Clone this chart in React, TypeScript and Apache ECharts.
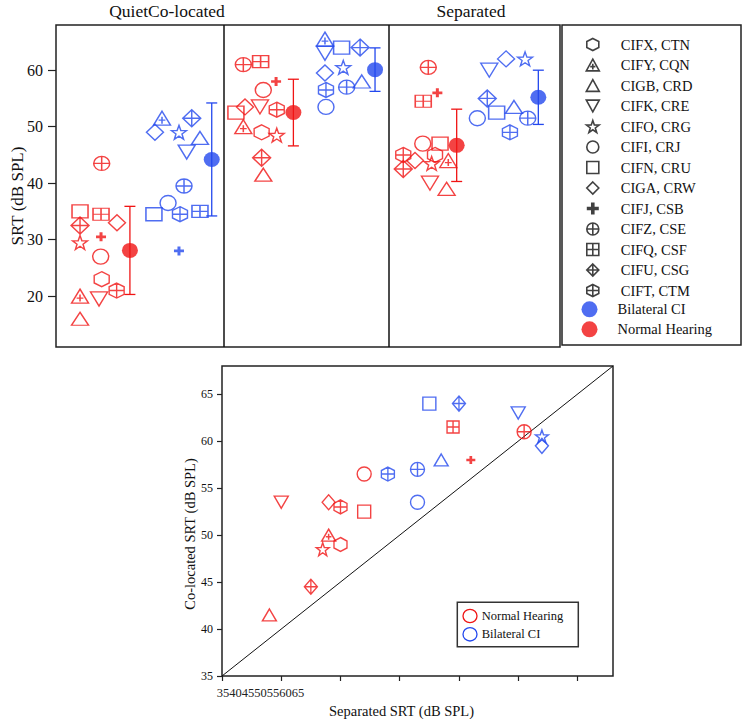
import React, { useEffect, useRef } from 'react';
import * as echarts from 'echarts';

// ---------- data ----------
const subjects = [
  'CIFX, CTN', 'CIFY, CQN', 'CIGB, CRD', 'CIFK, CRE', 'CIFO, CRG', 'CIFI, CRJ', 'CIFN, CRU',
  'CIGA, CRW', 'CIFJ, CSB', 'CIFZ, CSE', 'CIFQ, CSF', 'CIFU, CSG', 'CIFT, CTM',
];
const shapeKeys = [
  'hex', 'triPlus', 'tri', 'triDown', 'star', 'circle', 'square',
  'diamond', 'plus', 'circleCross', 'squareCross', 'diamondCross', 'hexCross',
];

// Normal hearing (red): SRT in dB SPL per subject
const nhQuiet = [23, 20, 16, 19.5, 29.5, 27, 35, 33, 30.5, 43.5, 34.5, 32.5, 21];
const nhCo = [49, 50, 41.5, 53.5, 48.5, 56.5, 52.5, 53.5, 58, 61, 61.5, 44.5, 53];
const nhSep = [45, 44, 39, 40, 43.5, 47, 47, 44, 56, 60.5, 54.5, 42.5, 45];
// Bilateral CI (blue)
const ciQuiet = [null, 51.5, 48, 45.5, 49, 36.5, 34.5, 49, 28, 39.5, 35, 51.5, 34.5];
const ciCo = [null, 65.5, 58, 63, 60.5, 53.5, 64, 59.5, null, 57, null, 64, 56.5];
const ciSep = [null, null, 53.5, 60, 62, 51.5, 52.5, 62, null, 51.5, null, 55, 49];

// horizontal (jitter) positions in the top panel, panel units (0-1 Quiet, 1-2 Co-located, 2-3 Separated)
const nhQuietX = [0.272, 0.143, 0.143, 0.256, 0.143, 0.266, 0.143, 0.363, 0.268, 0.272, 0.268, 0.143, 0.361];
const nhCoX = [1.224, 1.115, 1.234, 1.214, 1.314, 1.234, 1.071, 1.125, 1.31, 1.115, 1.218, 1.224, 1.314];
const nhSepX = [2.256, 2.335, 2.325, 2.226, 2.236, 2.183, 2.286, 2.137, 2.27, 2.216, 2.186, 2.067, 2.067];
const ciQuietX = [null, 0.631, 0.857, 0.778, 0.732, 0.667, 0.583, 0.589, 0.732, 0.762, 0.857, 0.808, 0.738];
const ciCoX = [null, 1.601, 1.82, 1.601, 1.71, 1.607, 1.7, 1.601, null, 1.73, null, 1.81, 1.607];
const ciSepX = [null, null, 2.726, 2.579, 2.792, 2.508, 2.623, 2.679, null, 2.808, null, 2.567, 2.702];

// group means and error bars (Quiet, Co-located, Separated)
const meanNH = [28.1, 52.5, 46.7];
const sdNH = [7.8, 5.9, 6.4];
const meanCI = [44.2, 60.1, 55.2];
const sdCI = [10.0, 3.85, 4.8];
const meanXNH = [0.44, 1.413, 2.385];
const meanXCI = [0.927, 1.899, 2.871];

const dividers = [1, 1.976];
const topYTicks = [20, 30, 40, 50, 60];
const bottomTicks = [35, 40, 45, 50, 55, 60, 65];
const diagonal = [[35, 35], [68, 68]];
const panelTitles = ['QuietCo-located', 'Separated'];
const brokenXLabels = '35404550556065';

// ---------- styling ----------
const RED = '#f01414';
const BLUE = '#2348ee';
const FONT = 'Liberation Serif';
const CROSS = ' M10,0 L10,20 M0,10 L20,10';
const CIRC = 'M0,10 A10,10 0 1 1 20,10 A10,10 0 1 1 0,10 Z';
const HEX = 'M10,0 L20,5 L20,15 L10,20 L0,15 L0,5 Z';
const SQ = 'M0,0 L20,0 L20,20 L0,20 Z';
const DIA = 'M10,0 L20,10 L10,20 L0,10 Z';
const paths: Record<string, string> = {
  hex: HEX,
  triPlus: 'M10,0 L20,18 L0,18 Z M10,7 L10,16 M6,11.5 L14,11.5',
  tri: 'M10,0 L20,18 L0,18 Z',
  triDown: 'M0,0 L20,0 L10,18 Z',
  star: 'M10,0 L12.35,6.76 L19.51,6.91 L13.8,11.24 L15.88,18.09 L10,14 L4.12,18.09 L6.2,11.24 L0.49,6.91 L7.65,6.76 Z',
  circle: CIRC,
  square: SQ,
  diamond: DIA,
  plus: 'M7,0 L13,0 L13,7 L20,7 L20,13 L13,13 L13,20 L7,20 L7,13 L0,13 L0,7 L7,7 Z',
  circleCross: CIRC + CROSS,
  squareCross: SQ + CROSS,
  diamondCross: DIA + CROSS,
  hexCross: HEX + CROSS,
};
const topSizes: Record<string, number[]> = {
  hex: [15, 15], triPlus: [17, 14], tri: [17, 13], triDown: [17, 14], star: [15, 14],
  circle: [16, 15], square: [16, 13], diamond: [17, 16], plus: [10, 9], circleCross: [16, 14],
  squareCross: [16, 12], diamondCross: [18, 17], hexCross: [15, 15],
};
const botSizes: Record<string, number[]> = {
  hex: [13, 14], triPlus: [14, 12], tri: [14, 12], triDown: [14, 12], star: [13, 13],
  circle: [14, 14], square: [13, 13], diamond: [13, 15], plus: [9, 8], circleCross: [14, 14],
  squareCross: [12, 12], diamondCross: [13, 15], hexCross: [13, 14],
};
const ELLIPSE = 'path://' + CIRC;

function markerItems(
  vals: (number | null)[], xs: (number | null)[] | null, xvals: (number | null)[] | null,
  sizes: Record<string, number[]>, color: string,
) {
  const out: any[] = [];
  vals.forEach((v, i) => {
    const x = xs ? xs[i] : xvals ? xvals[i] : null;
    if (v == null || x == null) return;
    const k = shapeKeys[i];
    out.push({
      name: subjects[i],
      value: [x, v],
      symbol: 'path://' + paths[k],
      symbolSize: sizes[k],
      itemStyle: k === 'plus'
        ? { color, borderWidth: 0 }
        : { color: 'rgba(0,0,0,0)', borderColor: color, borderWidth: 1.4 },
    });
  });
  return out;
}

function errorSeries(name: string, means: number[], sds: number[], xs: number[], color: string) {
  return {
    type: 'custom', name, xAxisIndex: 0, yAxisIndex: 0, z: 2,
    data: means.map((m, i) => [xs[i], m, sds[i]]),
    encode: { x: 0, y: 1 },
    renderItem: (_p: any, api: any) => {
      const x = api.value(0), m = api.value(1), s = api.value(2);
      const t = api.coord([x, m + s]);
      const b = api.coord([x, m - s]);
      const st = { stroke: color, lineWidth: 1.3 };
      const h = 5.5;
      return {
        type: 'group', children: [
          { type: 'line', shape: { x1: t[0], y1: t[1], x2: b[0], y2: b[1] }, style: st },
          { type: 'line', shape: { x1: t[0] - h, y1: t[1], x2: t[0] + h, y2: t[1] }, style: st },
          { type: 'line', shape: { x1: b[0] - h, y1: b[1], x2: b[0] + h, y2: b[1] }, style: st },
        ],
      };
    },
  };
}

export default function App() {
  const ref = useRef<HTMLDivElement>(null);
  useEffect(() => {
    document.body.style.margin = '0';
    if (!ref.current) return;
    const chart = echarts.init(ref.current, undefined, { renderer: 'svg' });

    const topIndividual = [
      ...markerItems(nhQuiet, nhQuietX, null, topSizes, RED),
      ...markerItems(nhCo, nhCoX, null, topSizes, RED),
      ...markerItems(nhSep, nhSepX, null, topSizes, RED),
    ];
    const topIndividualCI = [
      ...markerItems(ciQuiet, ciQuietX, null, topSizes, BLUE),
      ...markerItems(ciCo, ciCoX, null, topSizes, BLUE),
      ...markerItems(ciSep, ciSepX, null, topSizes, BLUE),
    ];
    const scatterNH = markerItems(nhCo, null, nhSep, botSizes, RED);
    const scatterCI = markerItems(ciCo, null, ciSep, botSizes, BLUE);

    const legendDummies = subjects.map((s, i) => ({
      type: 'scatter', name: s, xAxisIndex: 0, yAxisIndex: 0, data: [],
      symbol: 'path://' + paths[shapeKeys[i]],
      itemStyle: shapeKeys[i] === 'plus'
        ? { color: '#111', borderWidth: 0 }
        : { color: 'rgba(0,0,0,0)', borderColor: '#111', borderWidth: 1.6 },
    }));

    const option: any = {
      animation: false,
      backgroundColor: '#fff',
      textStyle: { fontFamily: FONT },
      grid: [
        { left: 56, top: 25, width: 504, height: 322, show: true, borderColor: '#222', borderWidth: 1.5, outerBoundsMode: 'none', containLabel: false },
        { left: 222, top: 366, width: 391, height: 310, show: true, borderColor: '#222', borderWidth: 1.5, outerBoundsMode: 'none', containLabel: false },
      ],
      xAxis: [
        {
          type: 'value', gridIndex: 0, min: 0, max: 3,
          axisLine: { show: false }, axisTick: { show: false }, axisLabel: { show: false }, splitLine: { show: false },
        },
        {
          type: 'value', gridIndex: 1, min: 35, max: 68,
          name: 'Separated SRT (dB SPL)', nameLocation: 'middle', nameGap: 27, nameMoveOverlap: false,
          nameTextStyle: { fontSize: 14.5, color: '#111', fontFamily: FONT, padding: [0, 32, 0, 0] },
          axisLine: { show: false },
          axisTick: { show: true, customValues: bottomTicks, length: 5, lineStyle: { color: '#222', width: 1.2 } },
          axisLabel: { show: false },
          splitLine: { show: false },
        },
      ],
      yAxis: [
        {
          type: 'value', gridIndex: 0, min: 11, max: 68,
          name: 'SRT (dB SPL)', nameLocation: 'middle', nameGap: 30, nameRotate: 90, nameMoveOverlap: false,
          nameTextStyle: { fontSize: 17, color: '#111', fontFamily: FONT, padding: [0, 20, 0, 0] },
          axisLine: { show: false },
          axisTick: { show: true, customValues: topYTicks, length: 8, lineStyle: { color: '#222', width: 1.2 } },
          axisLabel: { customValues: topYTicks, fontSize: 16, color: '#111', fontFamily: FONT, margin: 13 },
          splitLine: { show: false },
        },
        {
          type: 'value', gridIndex: 1, min: 35, max: 68,
          name: 'Co-located SRT (dB SPL)', nameLocation: 'middle', nameGap: 25, nameRotate: 90, nameMoveOverlap: false,
          nameTextStyle: { fontSize: 14.5, color: '#111', fontFamily: FONT, padding: [0, 26, 0, 0] },
          axisLine: { show: false },
          axisTick: { show: true, customValues: bottomTicks, length: 5, lineStyle: { color: '#222', width: 1.2 } },
          axisLabel: { customValues: bottomTicks, fontSize: 12, color: '#111', fontFamily: FONT, margin: 9 },
          splitLine: { show: false },
        },
      ],
      legend: [
        {
          orient: 'vertical', left: 585.5, top: 37, padding: 0,
          itemWidth: 13, itemHeight: 12, itemGap: 5.5, selectedMode: false,
          itemStyle: { borderWidth: 1.6 },
          data: subjects.map((s, i) => ({
            name: s, icon: 'path://' + paths[shapeKeys[i]],
            ...(shapeKeys[i] === 'plus' ? { itemStyle: { borderWidth: 0 } } : {}),
          })),
          textStyle: { fontSize: 14.5, color: '#111', fontFamily: FONT, padding: [0, 0, 0, 16.5] },
        },
        {
          orient: 'vertical', left: 581.5, top: 301.3, padding: 0,
          itemWidth: 21, itemHeight: 16, itemGap: 4, selectedMode: false,
          data: [
            { name: 'Bilateral CI', icon: ELLIPSE },
            { name: 'Normal Hearing', icon: ELLIPSE },
          ],
          textStyle: { fontSize: 14.5, color: '#111', fontFamily: FONT, padding: [0, 0, 0, 12.5] },
        },
      ],
      series: [
        {
          type: 'scatter', name: 'NH individual', xAxisIndex: 0, yAxisIndex: 0, data: topIndividual, z: 3,
          markLine: {
            silent: true, symbol: ['none', 'none'], label: { show: false },
            lineStyle: { color: '#111', width: 1.5, type: 'solid' },
            data: dividers.map((d) => ({ xAxis: d })),
          },
        },
        { type: 'scatter', name: 'CI individual', xAxisIndex: 0, yAxisIndex: 0, data: topIndividualCI, z: 3 },
        errorSeries('NH error', meanNH, sdNH, meanXNH, RED),
        errorSeries('CI error', meanCI, sdCI, meanXCI, BLUE),
        {
          type: 'scatter', name: 'Bilateral CI', xAxisIndex: 0, yAxisIndex: 0, z: 4,
          data: meanCI.map((m, i) => [meanXCI[i], m]),
          symbol: ELLIPSE, symbolSize: [16, 15], itemStyle: { color: BLUE, borderWidth: 0 },
        },
        {
          type: 'scatter', name: 'Normal Hearing', xAxisIndex: 0, yAxisIndex: 0, z: 4,
          data: meanNH.map((m, i) => [meanXNH[i], m]),
          symbol: ELLIPSE, symbolSize: [16, 15], itemStyle: { color: RED, borderWidth: 0 },
        },
        ...legendDummies,
        {
          type: 'line', name: 'Unity', xAxisIndex: 1, yAxisIndex: 1, data: diagonal,
          symbol: 'none', lineStyle: { color: '#111', width: 1 }, z: 2, silent: true,
        },
        { type: 'scatter', name: 'NH Co vs Sep', xAxisIndex: 1, yAxisIndex: 1, data: scatterNH, z: 3 },
        { type: 'scatter', name: 'CI Co vs Sep', xAxisIndex: 1, yAxisIndex: 1, data: scatterCI, z: 3 },
      ],
      graphic: [
        { type: 'rect', shape: { x: 562, y: 25, width: 179, height: 320 }, style: { fill: 'none', stroke: '#222', lineWidth: 1.5 } },
        { type: 'text', x: 167, y: 11, style: { text: panelTitles[0], align: 'center', verticalAlign: 'middle', fontSize: 17.5, fontFamily: FONT, fill: '#111' } },
        { type: 'text', x: 471, y: 11, style: { text: panelTitles[1], align: 'center', verticalAlign: 'middle', fontSize: 17.5, fontFamily: FONT, fill: '#111' } },
        { type: 'text', x: 216.7, y: 692.5, style: { text: brokenXLabels, align: 'left', verticalAlign: 'middle', fontSize: 12.5, fontFamily: FONT, fill: '#222' } },
        { type: 'rect', shape: { x: 457.3, y: 602.3, width: 121, height: 44.4 }, style: { fill: '#fff', stroke: '#333', lineWidth: 1.5 }, z: 10 },
        { type: 'ellipse', shape: { cx: 470, cy: 616, rx: 7, ry: 6.7 }, style: { fill: 'none', stroke: RED, lineWidth: 1.3 }, z: 11 },
        { type: 'ellipse', shape: { cx: 470, cy: 634.3, rx: 7, ry: 6.7 }, style: { fill: 'none', stroke: BLUE, lineWidth: 1.3 }, z: 11 },
        { type: 'text', x: 481.7, y: 616, style: { text: 'Normal Hearing', verticalAlign: 'middle', fontSize: 12.5, fontFamily: FONT, fill: '#111' }, z: 11 },
        { type: 'text', x: 481.7, y: 634.3, style: { text: 'Bilateral CI', verticalAlign: 'middle', fontSize: 12.5, fontFamily: FONT, fill: '#111' }, z: 11 },
      ],
    };
    chart.setOption(option);
    return () => chart.dispose();
  }, []);
  return <div ref={ref} style={{ width: 743, height: 719 }} />;
}
